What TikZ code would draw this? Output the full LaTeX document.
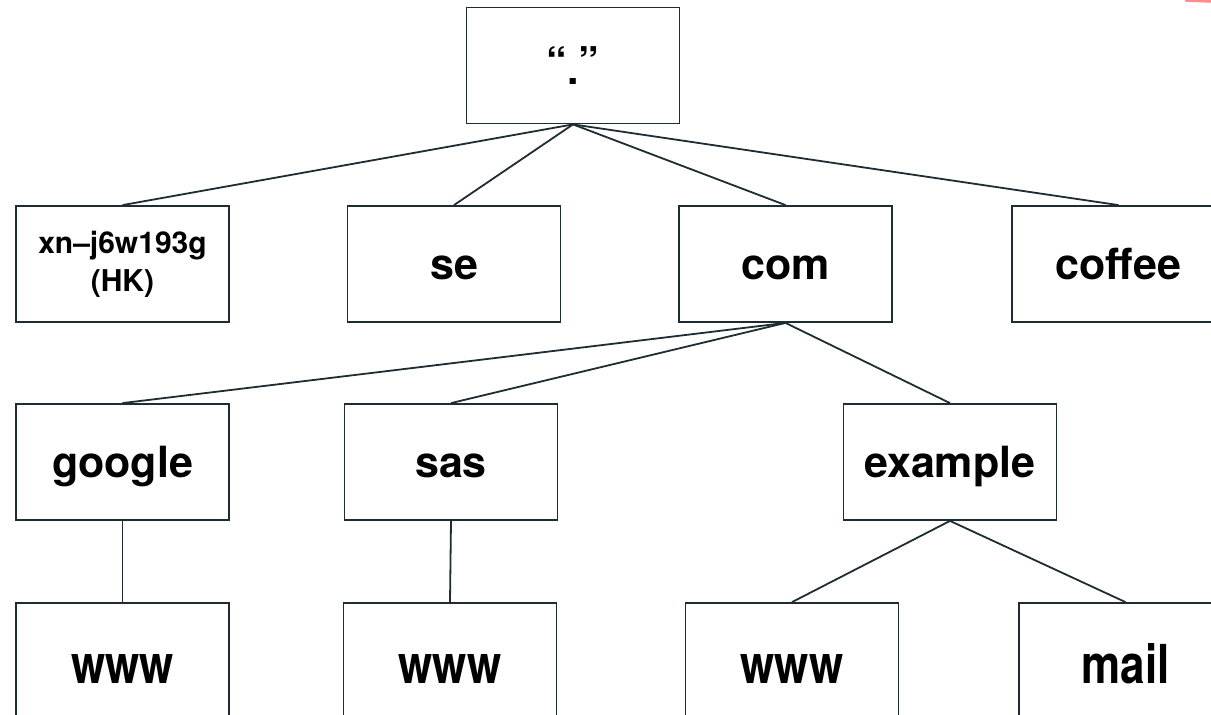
\documentclass[tikz,border=0pt]{standalone}
\usepackage{fontspec}
\setmainfont{TeX Gyre Heros}
\usepackage{tikz}

\definecolor{linecol}{HTML}{1E2D33}

\begin{document}
\begin{tikzpicture}[x=1pt, y=-1pt,
    box/.style={draw=linecol, line width=1.8pt, fill=white,
        minimum width=213pt, minimum height=116pt, inner sep=0pt,
        font=\fontsize{43}{50}\selectfont\bfseries,
        text height=30pt, text depth=0pt},
    hostbox/.style={box, font=\fontsize{44}{50}\selectfont\bfseries,
        text height=44pt, text depth=0pt},
    link/.style={draw=linecol, line width=1.8pt}]
    \useasboundingbox (0,0) rectangle (1211,715);
    \clip (0,0) rectangle (1211,715);

    % Root
    \node[box, text height=, text depth=,
        font=\fontsize{41}{48}\selectfont\bfseries] (root) at (573,65.5) {“\raisebox{-8pt}{.}”};

    % Top level domains
    \node[box, text height=, text depth=, align=center,
        font=\fontsize{30}{38}\selectfont\bfseries] (hk) at (122.5,264) {xn--j6w193g\\(HK)};
    \node[box] (se) at (454,264) {se};
    \node[box] (com) at (785.5,264) {com};
    \node[box] (coffee) at (1118.5,264) {coffee};

    % Second level
    \node[box] (google) at (122.5,462) {google};
    \node[box] (sas) at (451,462) {sas};
    \node[box] (example) at (950,462) {example};

    % Hosts (text drawn taller)
    \node[hostbox] (googlewww) at (122.5,661) {\scalebox{1}[1.22]{www}};
    \node[hostbox] (saswww) at (450,661) {\scalebox{1}[1.22]{www}};
    \node[hostbox] (examplewww) at (792,661) {\scalebox{1}[1.22]{www}};
    \node[hostbox] (examplemail) at (1125.5,661) {\scalebox{1}[1.22]{mail}};

    % Links
    \draw[link] (root.south) -- (hk.north);
    \draw[link] (root.south) -- (se.north);
    \draw[link] (root.south) -- (com.north);
    \draw[link] (root.south) -- (coffee.north);
    \draw[link] (com.south) -- (google.north);
    \draw[link] (com.south) -- (sas.north);
    \draw[link] (com.south) -- (example.north);
    \draw[link] (google.south) -- (googlewww.north);
    \draw[link] (sas.south) -- (saswww.north);
    \draw[link] (example.south) -- (examplewww.north);
    \draw[link] (example.south) -- (examplemail.north);

    % Red mark in the corner
    \draw[red!75, line width=2.5pt, opacity=0.6, line cap=round] (1186,0.5) -- (1211,1.5);
\end{tikzpicture}
\end{document}
